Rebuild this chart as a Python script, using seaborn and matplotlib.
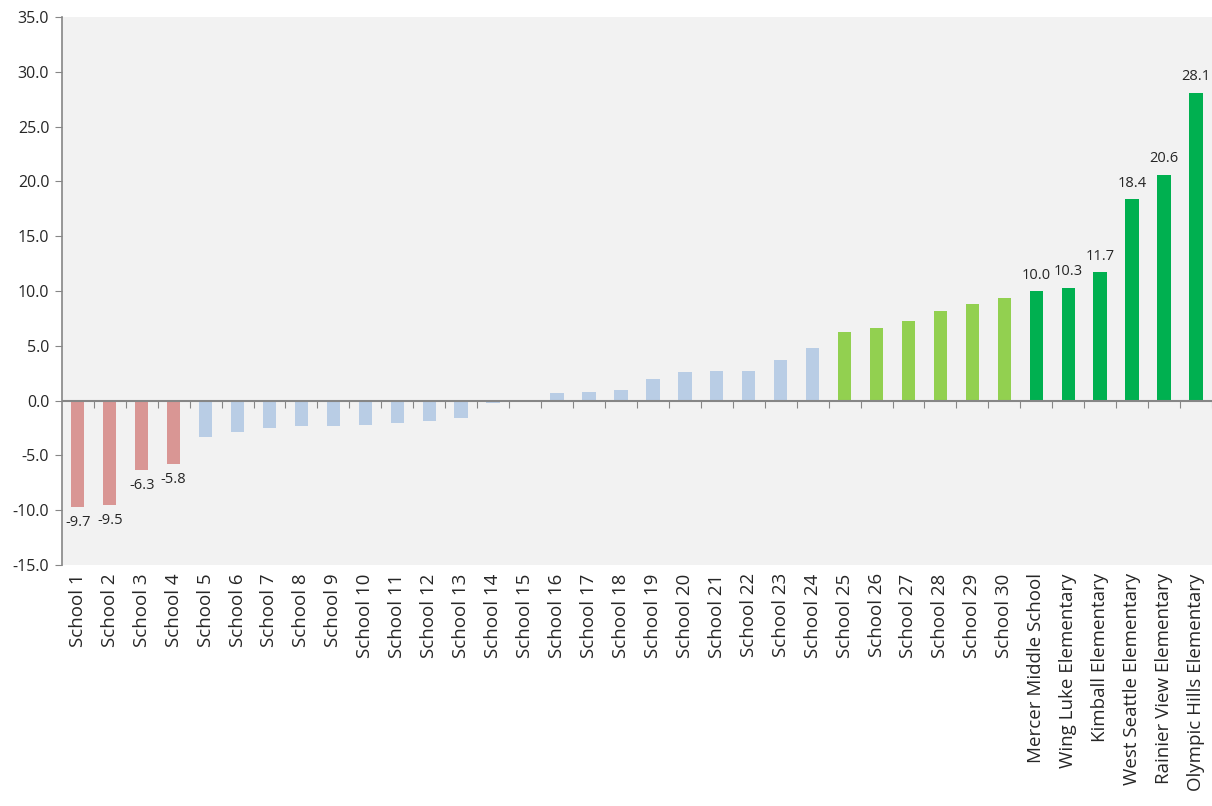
import seaborn as sns
import matplotlib.pyplot as plt
from matplotlib.ticker import FormatStrFormatter

# escolas e valores
schools = [f"School {i}" for i in range(1, 31)] + [
    "Mercer Middle School", "Wing Luke Elementary", "Kimball Elementary",
    "West Seattle Elementary", "Rainier View Elementary", "Olympic Hills Elementary",
]
values = [-9.7, -9.5, -6.3, -5.8, -3.3, -2.9, -2.5, -2.3, -2.3, -2.2,
          -2.0, -1.9, -1.6, -0.25, -0.05, 0.65, 0.75, 1.0, 2.0, 2.6,
          2.7, 2.7, 3.7, 4.8, 6.3, 6.6, 7.3, 8.2, 8.8, 9.4,
          10.0, 10.3, 11.7, 18.4, 20.6, 28.1]
groups = ["low"] * 4 + ["mid"] * 20 + ["high"] * 6 + ["top"] * 6
group_colors = {"low": "#D99694", "mid": "#B9CDE5", "high": "#92D050", "top": "#00B050"}
labelled = [0, 1, 2, 3, 30, 31, 32, 33, 34, 35]

sns.set_style("white")
plt.rcParams["font.family"] = ["Open Sans", "DejaVu Sans"]

fig = plt.figure(figsize=(12.12, 8.06), dpi=100)
ax = fig.add_axes([0.051, 0.299, 0.949, 0.68])
ax.set_facecolor("#F2F2F2")

sns.barplot(x=schools, y=values, hue=groups, palette=group_colors,
            width=0.42, saturation=1, linewidth=0, legend=False, ax=ax)

ax.set_ylim(-15, 35)
ax.set_xlim(-0.5, len(schools) - 0.5)
ax.set_yticks(range(-15, 36, 5))
ax.yaxis.set_major_formatter(FormatStrFormatter("%.1f"))
ax.tick_params(axis="y", direction="out", length=5, color="#868686",
               labelsize=11.5, left=True, pad=4)
ax.tick_params(axis="x", length=0, labelsize=13.5, labelrotation=90, pad=6)

for s in ["top", "right", "bottom"]:
    ax.spines[s].set_visible(False)
ax.spines["left"].set_color("#868686")
ax.spines["left"].set_linewidth(1.2)

# linha do zero com marcas entre categorias
ax.axhline(0, color="#868686", lw=1.5, zorder=3)
sec = ax.secondary_xaxis(15 / 50)
sec.set_xticks([i + 0.5 for i in range(len(schools))])
sec.tick_params(axis="x", direction="out", length=5, color="#868686",
                labelbottom=False, labeltop=False, bottom=True, top=False)
sec.spines["bottom"].set_visible(False)
sec.spines["top"].set_visible(False)

for i in labelled:
    v = values[i]
    if v < 0:
        ax.annotate(f"{v:.1f}", (i, v), xytext=(0, -6), textcoords="offset points",
                    ha="center", va="top", fontsize=10.5)
    else:
        ax.annotate(f"{v:.1f}", (i, v), xytext=(0, 6), textcoords="offset points",
                    ha="center", va="bottom", fontsize=10.5)

fig.savefig("out.png", dpi=100)
